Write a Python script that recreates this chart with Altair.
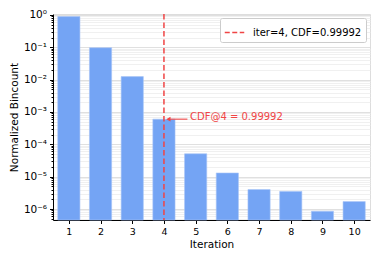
import altair as alt
import pandas as pd

# Data
iterations = [1, 2, 3, 4, 5, 6, 7, 8, 9, 10]
bincount = [0.89, 0.097, 0.0124, 0.00060, 5.1e-5, 1.3e-5, 4.0e-6, 3.5e-6, 8.5e-7, 1.7e-6]
cut_iter = [4]
legend_label = ["iter=4, CDF=0.99992"]
annot_text = ["CDF@4 = 0.99992"]
annot_value = [0.00060]
annot_text_x = [4.82]
arrow_tail_x = [4.74]
arrow_head_x = [4.14]

y_min, y_max = 4.57e-7, 1.07
major_ticks = [1e-6, 1e-5, 1e-4, 1e-3, 1e-2, 1e-1, 1e0]
minor_ticks = [m * 10.0 ** k for k in range(-7, 1) for m in range(2, 10)
               if y_min <= m * 10.0 ** k <= y_max]
all_ticks = sorted(major_ticks + minor_ticks)

df = pd.DataFrame({"iter": iterations, "val": bincount})
cut_df = pd.DataFrame({"iter": cut_iter, "label": legend_label})
ann_df = pd.DataFrame({"x": annot_text_x, "x_tail": arrow_tail_x, "x_head": arrow_head_x,
                       "y": annot_value, "text": annot_text})

RED = "#f04545"
BLUE = "#74a4f4"
is_major = "abs(log(datum.value)/LN10 - round(log(datum.value)/LN10)) < 1e-6"
label_expr = (is_major + " ? ['10\u2070','10\u207b\u00b9','10\u207b\u00b2','10\u207b\u00b3',"
              "'10\u207b\u2074','10\u207b\u2075','10\u207b\u2076'][-round(log(datum.value)/LN10)] : ''")

xscale = alt.Scale(domain=[0.5, 10.5], nice=False, zero=False)
yscale = alt.Scale(type="log", domain=[y_min, y_max], nice=False)

xaxis = alt.Axis(values=iterations, format="d", title="Iteration", grid=False,
                 labelOverlap=False, labelFlush=False, tickCount=10,
                 tickSize=3.5, tickColor="black", domainColor="black",
                 labelFontSize=9.5, titleFontSize=10.5, titleFontWeight="normal",
                 labelPadding=3, titlePadding=3, labelColor="black", titleColor="black")
yaxis = alt.Axis(values=all_ticks, labelExpr=label_expr, labelOverlap=False,
                 labelFlush=False,
                 title="Normalized Bincount", grid=True,
                 gridColor={"condition": {"test": is_major, "value": "#d8d8d8"}, "value": "#ececec"},
                 gridWidth=0.8,
                 tickSize={"condition": {"test": is_major, "value": 3.5}, "value": 2},
                 tickColor="black", domainColor="black",
                 labelFontSize=10.5, titleFontSize=10.5, titleFontWeight="normal",
                 labelPadding=3, titlePadding=4, labelColor="black", titleColor="black")

bars = alt.Chart(df).transform_calculate(
    x0="datum.iter - 0.35", x1="datum.iter + 0.35"
).mark_bar(color=BLUE, stroke="#a8c5f6", strokeWidth=0.6).encode(
    x=alt.X("x0:Q", scale=xscale, axis=xaxis),
    x2="x1:Q",
    y=alt.Y("val:Q", scale=yscale, axis=yaxis),
    y2=alt.datum(y_min),
)

vline = alt.Chart(cut_df).mark_rule(strokeDash=[5.5, 3], strokeWidth=1.5).encode(
    x=alt.X("iter:Q", scale=xscale, axis=xaxis),
    color=alt.Color("label:N", scale=alt.Scale(range=[RED]),
                    legend=alt.Legend(title=None, orient="top-right", offset=4,
                                      symbolType="stroke", symbolDash=[5, 2.5],
                                      symbolStrokeWidth=1.5, symbolSize=380,
                                      fillColor="white", strokeColor="#cccccc",
                                      cornerRadius=2, padding=4, labelOffset=8,
                                      labelFontSize=10, labelColor="black",
                                      labelFont="DejaVu Sans")),
)

arrow = alt.Chart(ann_df).mark_rule(color=RED, strokeWidth=1.1).encode(
    x=alt.X("x_tail:Q", scale=xscale, axis=xaxis), x2="x_head:Q",
    y=alt.Y("y:Q", scale=yscale, axis=yaxis),
)
head = alt.Chart(ann_df).mark_point(shape="triangle-left", filled=True, color=RED,
                                    size=24, opacity=1).encode(
    x=alt.X("x_head:Q", scale=xscale, axis=xaxis),
    y=alt.Y("y:Q", scale=yscale, axis=yaxis),
)
text = alt.Chart(ann_df).mark_text(color=RED, align="left", baseline="middle",
                                   fontSize=10, dy=-2, font="DejaVu Sans").encode(
    x=alt.X("x:Q", scale=xscale, axis=xaxis),
    y=alt.Y("y:Q", scale=yscale, axis=yaxis),
    text="text:N",
)

chart = alt.layer(bars, vline, arrow, head, text).properties(
    width=317, height=206,
    autosize=alt.AutoSizeParams(type="none"),
    padding={"left": 45, "top": 6, "right": 2, "bottom": 34},
).configure_view(stroke="#777777", strokeWidth=1).configure(
    font="DejaVu Sans"
)

chart.save("out.html", embed_options={"renderer": "svg", "actions": False})
